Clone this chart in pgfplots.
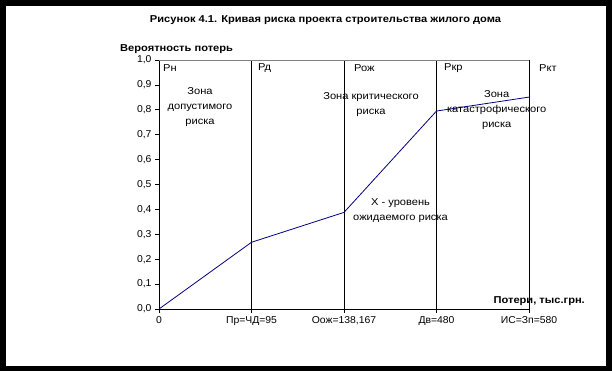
\documentclass[border=0pt]{standalone}
\usepackage{fontspec}
\setmainfont{Liberation Sans}[FakeStretch=1.11]
\newfontfamily\tickfont{Liberation Sans}[FakeStretch=1.04]
\usepackage{pgfplots}
\pgfplotsset{compat=1.18}
\begin{document}
\begin{tikzpicture}[x=1pt,y=1pt]
\fill[black] (0,0) rectangle (612,371);
\fill[white] (6,5) rectangle (606,365);
\begin{axis}[
  at={(159pt,62pt)}, anchor=origin,
  scale only axis, width=370pt, height=249pt,
  xmin=0, xmax=4, ymin=0, ymax=1,
  axis x line*=bottom, axis y line*=left,
  axis line style={black, line width=0.8pt},
  xtick={0,1,2,3,4},
  xticklabels={0, Пр=ЧД=95, Оож=138{,}167, Дв=480, ИС=Зп=580},
  ytick={0,0.1,...,1.0},
  yticklabel style={/pgf/number format/.cd, use comma, fixed, fixed zerofill, precision=1},
  /pgf/number format/assume math mode=true,
  tick label style={font=\tickfont\fontsize{10}{12}\selectfont, black},
  tick align=outside, major tick length=4pt,
  tick style={black, line width=0.6pt},
  xmajorgrids, major grid style={black, line width=0.8pt},
  clip=false,
]
\draw[gray, line width=0.8pt] (axis cs:0,1) -- (axis cs:4,1);
\addplot[color={rgb,255:red,0;green,0;blue,128}, line width=0.8pt, mark=none] coordinates {
  (0,0) (1,0.268) (2,0.388) (3,0.795) (4,0.851)
};
\end{axis}
\node[font=\fontsize{10}{12}\selectfont\bfseries] at (325.5,351) {Рисунок 4.1. Кривая риска проекта строительства жилого дома};
\node[font=\fontsize{10}{12}\selectfont\bfseries, anchor=west, inner sep=0] at (120,322) {Вероятность потерь};
\node[font=\fontsize{10}{12}\selectfont\bfseries, anchor=east, inner sep=0] at (585,70) {Потери, тыс.грн.};
\begin{scope}[every node/.style={font=\fontsize{10}{15}\selectfont, anchor=west, inner sep=0}]
\node at (163,303) {Рн};
\node at (258,303) {Рд};
\node at (354,303) {Рож};
\node at (444,303) {Ркр};
\node at (539,303) {Ркт};
\end{scope}
\begin{scope}[every node/.style={font=\fontsize{10}{15}\selectfont, align=center, inner sep=0}]
\node at (200,264.3) {Зона\\допустимого\\риска};
\node at (371,266.5) {Зона критического\\риска};
\node at (496.7,260.7) {Зона\\катастрофического\\риска};
\node at (400.5,160) {X - уровень\\ожидаемого риска};
\end{scope}
\end{tikzpicture}
\end{document}
